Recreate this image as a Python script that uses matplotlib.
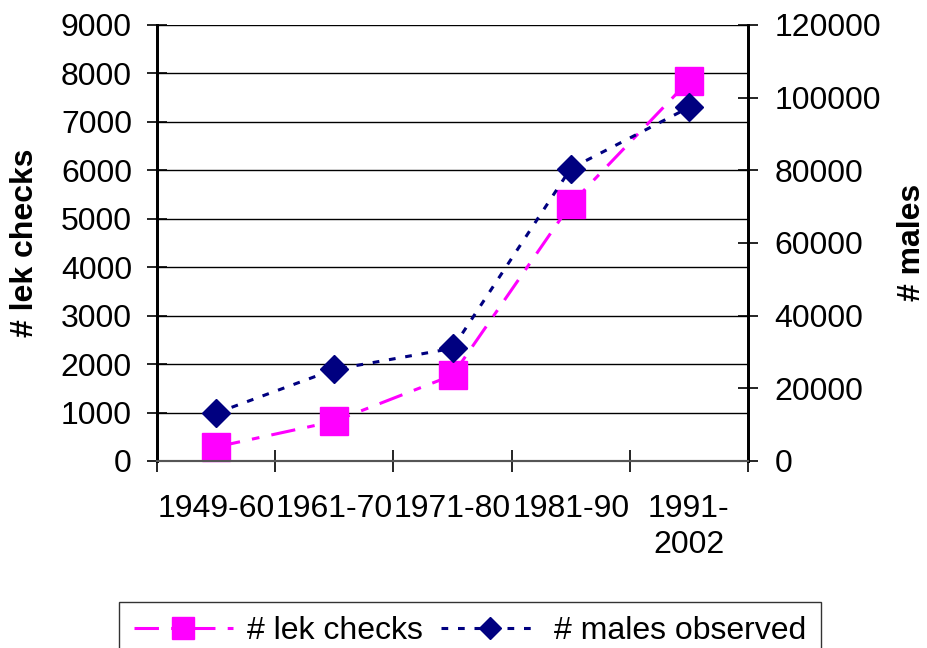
import matplotlib
matplotlib.use("Agg")
import matplotlib.pyplot as plt
from matplotlib.lines import Line2D
import numpy as np

categories = ["1949-60", "1961-70", "1971-80", "1981-90", "1991-\n2002"]
lek_checks = [290, 820, 1770, 5300, 7850]
males_observed = [13200, 25200, 31000, 80500, 97300]

plt.rcParams['font.family'] = ['Liberation Sans', 'DejaVu Sans']
FS = 23

fig = plt.figure(figsize=(9.28, 6.48), dpi=100)
ax = fig.add_axes([157/928, 1-461/648, (748-157)/928, (461-25)/648])
ax2 = ax.twinx()

x = np.arange(len(categories))
magenta = '#FF00FF'
navy = '#000080'

ax.plot(x, lek_checks, color=magenta, lw=2.2, dashes=(8, 4, 2.5, 4),
        marker='s', markersize=20.5, markerfacecolor=magenta,
        markeredgecolor=magenta, zorder=3, clip_on=False)
ax2.plot(x, males_observed, color=navy, lw=2.2, dashes=(2.2, 3.2),
         marker='D', markersize=14.5, markerfacecolor=navy,
         markeredgecolor=navy, zorder=3, clip_on=False)

ax.set_xlim(-0.5, 4.5)
ax.set_ylim(0, 9000)
ax2.set_ylim(0, 120000)
ax.set_yticks(np.arange(0, 9001, 1000))
ax2.set_yticks(np.arange(0, 120001, 20000))

ax.set_xticks(x)
ax.set_xticklabels(categories, fontsize=FS, linespacing=1.25)
ax.set_xticks(np.arange(-0.5, 4.6, 1), minor=True)
ax.tick_params(axis='x', which='major', length=0, pad=24)
ax.tick_params(axis='x', which='minor', direction='inout', length=16, width=1.2, color='black')
ax.tick_params(axis='y', direction='inout', length=14, width=1.2, labelsize=FS, pad=11)
ax2.tick_params(axis='y', direction='inout', length=14, width=1.2, labelsize=FS, pad=12)

ax.grid(axis='y', color='black', lw=1.0)
ax.set_axisbelow(True)

for a in (ax, ax2):
    a.spines['top'].set_visible(False)
    a.spines['left'].set_linewidth(2)
    a.spines['right'].set_linewidth(2)
    a.spines['bottom'].set_linewidth(1.5)
    a.spines['bottom'].set_color('#555555')

fig.text(25/928, 1-243/648, "# lek checks", fontsize=FS, fontweight='bold',
         rotation=90, ha='center', va='center')
fig.text(912/928, 1-242/648, "# males", fontsize=FS, fontweight='bold',
         rotation=90, ha='center', va='center')

handles = [
    Line2D([], [], color=magenta, lw=2.2, dashes=(8, 4, 2.5, 4), marker='s',
           markersize=16.5, markerfacecolor=magenta, markeredgecolor=magenta),
    Line2D([], [], color=navy, lw=2.2, dashes=(2.2, 3.2), marker='D',
           markersize=11.5, markerfacecolor=navy, markeredgecolor=navy),
]
leg = fig.legend(handles, ["# lek checks", "# males observed"], ncol=2,
                 loc='upper center', bbox_to_anchor=(470/928, 1-602/648),
                 fontsize=FS, frameon=True, fancybox=False, handlelength=3.1,
                 borderpad=0.45, handletextpad=0.45, columnspacing=0.55,
                 borderaxespad=0)
leg.get_frame().set_edgecolor('black')
leg.get_frame().set_linewidth(1.0)

fig.savefig("out.png", dpi=100)
